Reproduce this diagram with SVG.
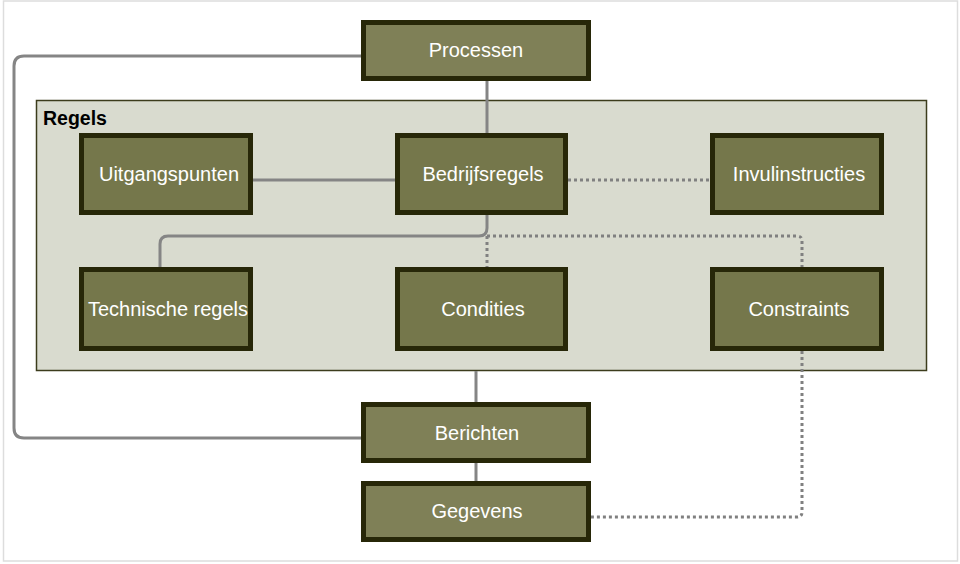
<svg xmlns="http://www.w3.org/2000/svg" width="960" height="564" viewBox="0 0 960 564">
<style>
.node rect{stroke:#272708;stroke-width:5}
.outer rect{fill:#7f8057}
.inner rect{fill:#75774b}
.node text{font-family:"Liberation Sans",Arial,sans-serif;font-size:20px;fill:#ffffff;text-anchor:middle}
.c{fill:none;stroke:#858585;stroke-width:3}
.d{fill:none;stroke:#808080;stroke-width:3;stroke-dasharray:3 3}
</style>
<rect x="3.5" y="1" width="954" height="560" fill="#ffffff" stroke="#dddddd" stroke-width="1.5"/>
<g id="regels">
<rect x="36.5" y="100.5" width="890" height="270" fill="#d9dbcf" stroke="#3c3c1c" stroke-width="1.5"/>
<text x="43" y="125" font-family="'Liberation Sans',Arial,sans-serif" font-size="19.5px" font-weight="bold" fill="#000000">Regels</text>
</g>
<g id="connectors">
<path class="c" d="M361,56 H24 Q14,56 14,66 V428 Q14,438 24,438 H361"/>
<path class="c" d="M487,81 V133"/>
<path class="c" d="M253,180 H395"/>
<path class="d" d="M568,180 H710"/>
<path class="c" d="M487,215 V228 Q487,236 479,236 H168 Q160,236 160,244 V267"/>
<path class="d" d="M487,236 V267"/>
<path class="d" d="M487,236 H797 Q802,236 802,241 V267"/>
<path class="d" d="M802,351 V512 Q802,517 797,517 H591"/>
<path class="c" d="M476,371 V402"/>
<path class="c" d="M476,463 V481"/>
</g>
<g id="processen" class="node outer"><rect x="363.5" y="22.5" width="225" height="56"/><text x="476" y="57">Processen</text></g>
<g id="uitgangspunten" class="node inner"><rect x="81.5" y="135.5" width="169" height="77"/><text x="169" y="181">Uitgangspunten</text></g>
<g id="bedrijfsregels" class="node inner"><rect x="397.5" y="135.5" width="168" height="77"/><text x="483" y="181">Bedrijfsregels</text></g>
<g id="invulinstructies" class="node inner"><rect x="712.5" y="135.5" width="169" height="77"/><text x="799" y="181">Invulinstructies</text></g>
<g id="technische" class="node inner"><rect x="81.5" y="269.5" width="169" height="79"/><text x="168" y="316">Technische regels</text></g>
<g id="condities" class="node inner"><rect x="397.5" y="269.5" width="168" height="79"/><text x="483" y="316">Condities</text></g>
<g id="constraints" class="node inner"><rect x="712.5" y="269.5" width="169" height="79"/><text x="799" y="316">Constraints</text></g>
<g id="berichten" class="node outer"><rect x="363.5" y="404.5" width="225" height="56"/><text x="477" y="440">Berichten</text></g>
<g id="gegevens" class="node outer"><rect x="363.5" y="483.5" width="225" height="56"/><text x="477" y="518">Gegevens</text></g>
</svg>
